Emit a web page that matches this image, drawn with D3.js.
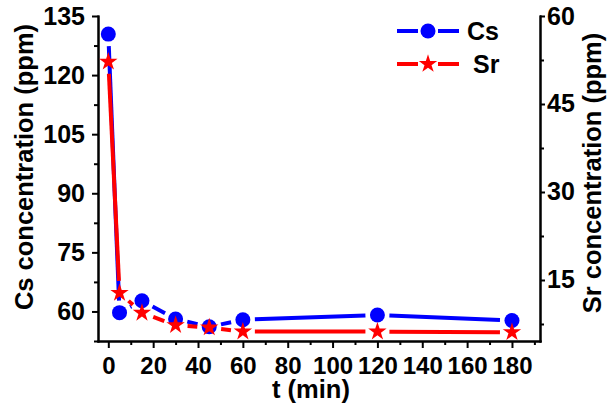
<!DOCTYPE html>
<html>
<head>
<meta charset="utf-8">
<script src="https://cdn.jsdelivr.net/npm/d3@7"></script>
<style>
  html, body { margin: 0; padding: 0; background: #fff; }
  svg { display: block; }
  text { font-family: "Liberation Sans", Arial, sans-serif; font-weight: bold; fill: #000; }
</style>
</head>
<body>
<svg id="chart" width="608" height="409"></svg>
<script>
// Sampling times (min)
const time = [0, 5, 15, 30, 45, 60, 120, 180];
// Cs concentration (ppm), left axis
const csValues = [130.4, 59.7, 62.7, 58.1, 56.1, 57.9, 59.1, 57.7];
// Sr concentration (ppm), right axis
const srValues = [52.2, 12.8, 9.4, 7.3, 6.9, 6.2, 6.2, 6.1];

// Tick values
const xTicks = [0, 20, 40, 60, 80, 100, 120, 140, 160, 180];
const xMinorTicks = [10, 30, 50, 70, 90, 110, 130, 150, 170, 190];
const csTicks = [60, 75, 90, 105, 120, 135];
const csMinorTicks = [52.5, 67.5, 82.5, 97.5, 112.5, 127.5];
const srTicks = [15, 30, 45, 60];
const srMinorTicks = [7.5, 22.5, 37.5, 52.5];

const seriesNames = ["Cs", "Sr"];
const seriesColors = ["#0000ff", "#ff0000"];

// Plot frame
const plotLeft = 98, plotRight = 540, plotTop = 16, plotBottom = 341;

const svg = d3.select("#chart");

const x = d3.scaleLinear().domain([-4.6, 192.5]).range([plotLeft, plotRight]);
const yCs = d3.scaleLinear().domain([52.5, 135]).range([plotBottom, plotTop]);
const ySr = d3.scaleLinear().domain([4.6, 60]).range([plotBottom, plotTop]);

function styleAxis(g, fontSize) {
  g.select(".domain").attr("stroke", "#000").attr("stroke-width", 2).attr("stroke-linecap", "square");
  g.selectAll(".tick line").attr("stroke", "#000").attr("stroke-width", 2);
  g.selectAll(".tick text").style("font-size", (fontSize || 25) + "px").attr("fill", "#000");
  g.attr("font-family", null).attr("font-size", null);
}

// Bottom axis
svg.append("g").attr("transform", `translate(0,${plotBottom})`)
  .call(d3.axisBottom(x).tickValues(xMinorTicks).tickSize(4).tickSizeOuter(0).tickFormat(""))
  .call(styleAxis);
svg.append("g").attr("transform", `translate(0,${plotBottom})`)
  .call(d3.axisBottom(x).tickValues(xTicks).tickSize(7).tickPadding(9).tickSizeOuter(0).tickFormat(d3.format("d")))
  .call(styleAxis, 24);

// Left axis (Cs)
svg.append("g").attr("transform", `translate(${plotLeft},0)`)
  .call(d3.axisLeft(yCs).tickValues(csMinorTicks).tickSize(4).tickSizeOuter(0).tickFormat(""))
  .call(styleAxis);
svg.append("g").attr("transform", `translate(${plotLeft},0)`)
  .call(d3.axisLeft(yCs).tickValues(csTicks).tickSize(6).tickPadding(7).tickSizeOuter(0).tickFormat(d3.format("d")))
  .call(styleAxis);

// Right axis (Sr)
svg.append("g").attr("transform", `translate(${plotRight},0)`)
  .call(d3.axisRight(ySr).tickValues(srMinorTicks).tickSize(4).tickSizeOuter(0).tickFormat(""))
  .call(styleAxis);
svg.append("g").attr("transform", `translate(${plotRight},0)`)
  .call(d3.axisRight(ySr).tickValues(srTicks).tickSize(5).tickPadding(2).tickSizeOuter(0).tickFormat(d3.format("d")))
  .call(styleAxis);

// Axis titles
svg.append("text").attr("transform", "translate(33,167) rotate(-90)")
  .attr("text-anchor", "middle").style("font-size", "25.5px").text("Cs concentration (ppm)");
svg.append("text").attr("transform", "translate(601,173) rotate(-90)")
  .attr("text-anchor", "middle").style("font-size", "25.5px").text("Sr concentration (ppm)");
svg.append("text").attr("x", 311).attr("y", 398)
  .attr("text-anchor", "middle").style("font-size", "25.5px").text("t (min)");

// Line segments between consecutive points, trimmed around the markers
const GAP = 12;
function drawSeries(values, yScale, color, symbolType, symbolSize) {
  const pts = time.map((t, i) => [x(t), yScale(values[i])]);
  const g = svg.append("g");
  for (let i = 0; i < pts.length - 1; i++) {
    const [x0, y0] = pts[i], [x1, y1] = pts[i + 1];
    const len = Math.hypot(x1 - x0, y1 - y0);
    if (len <= 2 * GAP) continue;
    const ux = (x1 - x0) / len, uy = (y1 - y0) / len;
    g.append("line")
      .attr("x1", x0 + ux * GAP).attr("y1", y0 + uy * GAP)
      .attr("x2", x1 - ux * GAP).attr("y2", y1 - uy * GAP)
      .attr("stroke", color).attr("stroke-width", 4);
  }
  g.selectAll("path.mark").data(pts).join("path")
    .attr("class", "mark")
    .attr("transform", d => `translate(${d[0]},${d[1]})`)
    .attr("d", d3.symbol().type(symbolType).size(symbolSize))
    .attr("fill", color);
}

const CIRCLE_SIZE = Math.PI * 7.5 * 7.5;
const STAR_SIZE = 105;
drawSeries(csValues, yCs, seriesColors[0], d3.symbolCircle, CIRCLE_SIZE);
drawSeries(srValues, ySr, seriesColors[1], d3.symbolStar, STAR_SIZE);

// Legend
const legendRows = [
  { name: seriesNames[0], color: seriesColors[0], type: d3.symbolCircle, size: CIRCLE_SIZE, y: 31, tx: 467 },
  { name: seriesNames[1], color: seriesColors[1], type: d3.symbolStar, size: STAR_SIZE, y: 64, tx: 473 }
];
const lg = svg.append("g");
legendRows.forEach(r => {
  lg.append("line").attr("x1", 397).attr("x2", 418).attr("y1", r.y).attr("y2", r.y)
    .attr("stroke", r.color).attr("stroke-width", 4);
  lg.append("line").attr("x1", 438).attr("x2", 459).attr("y1", r.y).attr("y2", r.y)
    .attr("stroke", r.color).attr("stroke-width", 4);
  lg.append("path").attr("transform", `translate(428,${r.y})`)
    .attr("d", d3.symbol().type(r.type).size(r.size)).attr("fill", r.color);
  lg.append("text").attr("x", r.tx).attr("y", r.y + 9).style("font-size", "25px").text(r.name);
});
</script>
</body>
</html>
